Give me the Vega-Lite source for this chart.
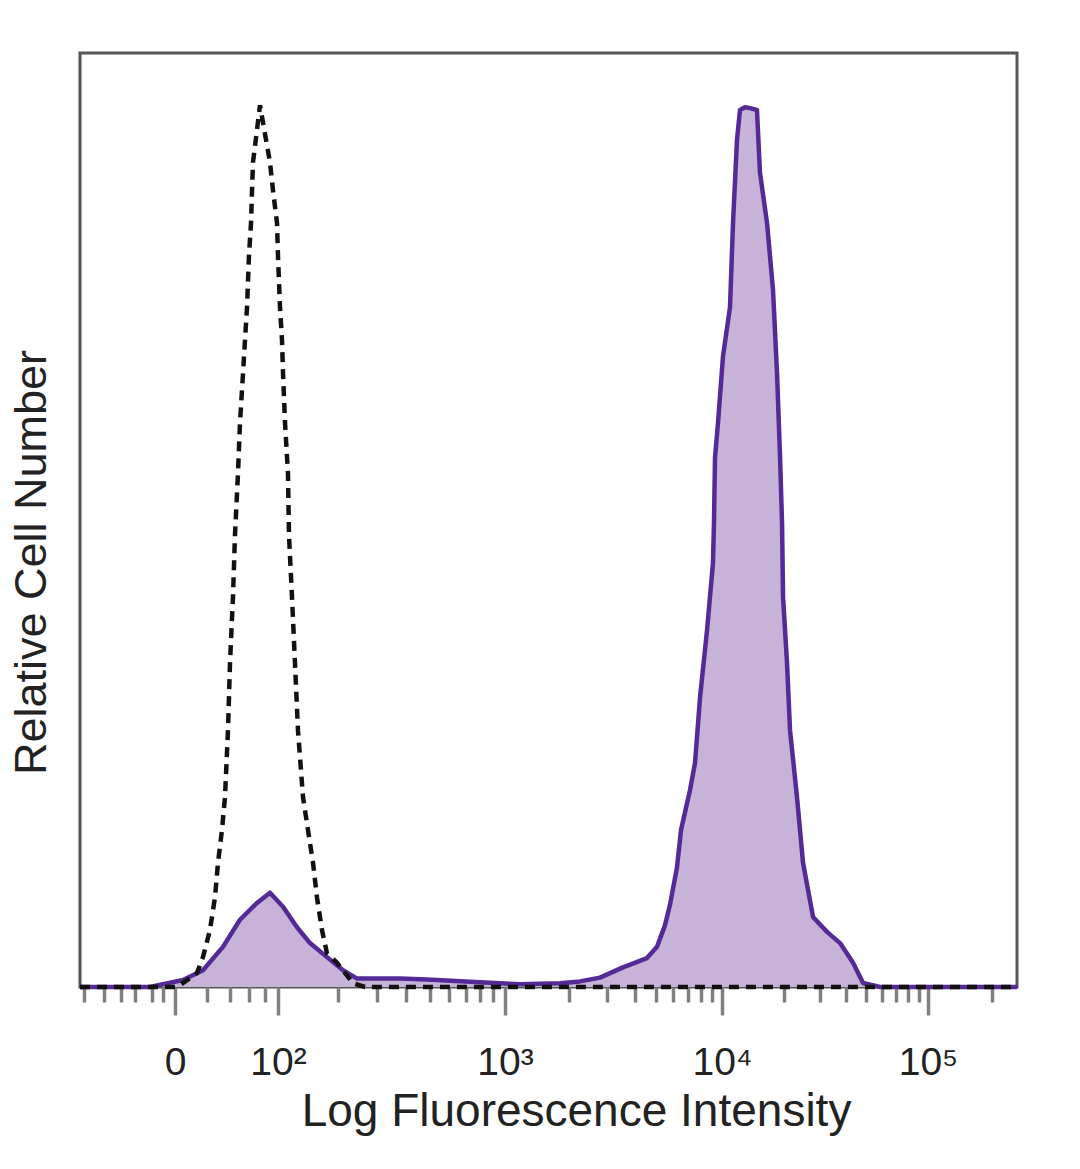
{
  "$schema": "https://vega.github.io/schema/vega-lite/v6.json",
  "autosize": {"type": "none"},
  "padding": {"left": 80, "top": 53, "right": 63, "bottom": 182},
  "width": 937,
  "height": 934,
  "background": "white",
  "config": {
    "view": {"stroke": "#555555", "strokeWidth": 3},
    "font": "Liberation Sans"
  },
  "datasets": {
    "control": [
      {"intensity": -150, "count": 0}, {"intensity": 0, "count": 0}, {"intensity": 2.7, "count": 0.2},
      {"intensity": 13.2, "count": 1.5}, {"intensity": 17.4, "count": 3.2}, {"intensity": 22.6, "count": 6.1},
      {"intensity": 26.6, "count": 9.6}, {"intensity": 29.1, "count": 13.3}, {"intensity": 32.5, "count": 16.8},
      {"intensity": 35.2, "count": 20.3}, {"intensity": 38, "count": 27.5}, {"intensity": 39.9, "count": 34.7},
      {"intensity": 42.8, "count": 41.8}, {"intensity": 44.8, "count": 48.4}, {"intensity": 47.9, "count": 55},
      {"intensity": 50, "count": 60.4}, {"intensity": 53.3, "count": 65.7}, {"intensity": 55.5, "count": 69.3},
      {"intensity": 57.8, "count": 72.8}, {"intensity": 60, "count": 78.2}, {"intensity": 62.5, "count": 81.8},
      {"intensity": 63.7, "count": 85.3}, {"intensity": 64.9, "count": 88.3}, {"intensity": 73.8, "count": 94.4},
      {"intensity": 87.7, "count": 88.3}, {"intensity": 92.2, "count": 85.3}, {"intensity": 98.4, "count": 81.8},
      {"intensity": 100, "count": 78.2}, {"intensity": 102.6, "count": 72.8}, {"intensity": 105.2, "count": 69.3},
      {"intensity": 106.6, "count": 65.7}, {"intensity": 109.3, "count": 60.4}, {"intensity": 113.4, "count": 55},
      {"intensity": 114.8, "count": 48.4}, {"intensity": 119.1, "count": 41.8}, {"intensity": 123.5, "count": 34.7},
      {"intensity": 128, "count": 27.5}, {"intensity": 135.9, "count": 20.3}, {"intensity": 144, "count": 16.8},
      {"intensity": 152.5, "count": 13.3}, {"intensity": 159.5, "count": 9.6}, {"intensity": 168.7, "count": 6.1},
      {"intensity": 178.3, "count": 3.6}, {"intensity": 198.8, "count": 2.6}, {"intensity": 235.3, "count": 0.4},
      {"intensity": 266, "count": 0}, {"intensity": 262144, "count": 0}
    ],
    "sample": [
      {"intensity": -150, "count": 0}, {"intensity": -22, "count": 0}, {"intensity": 4.45, "count": 0.75},
      {"intensity": 17.4, "count": 1.8}, {"intensity": 33.4, "count": 4.3}, {"intensity": 50, "count": 7.2},
      {"intensity": 69.9, "count": 9.0}, {"intensity": 87.7, "count": 10.1}, {"intensity": 106.6, "count": 8.6},
      {"intensity": 126.5, "count": 6.4}, {"intensity": 147.4, "count": 4.7}, {"intensity": 178.3, "count": 3.2},
      {"intensity": 211.9, "count": 1.8}, {"intensity": 245.3, "count": 0.9}, {"intensity": 376.8, "count": 0.9},
      {"intensity": 488, "count": 0.8}, {"intensity": 797, "count": 0.5}, {"intensity": 1178, "count": 0.3},
      {"intensity": 1811, "count": 0.4}, {"intensity": 2242, "count": 0.6}, {"intensity": 2772, "count": 1.0},
      {"intensity": 3536, "count": 2.1}, {"intensity": 4553, "count": 3.1}, {"intensity": 5059, "count": 4.3},
      {"intensity": 5500, "count": 6.6}, {"intensity": 5798, "count": 8.8}, {"intensity": 6240, "count": 12.8},
      {"intensity": 6510, "count": 16.8}, {"intensity": 7155, "count": 21.1}, {"intensity": 7540, "count": 24.0},
      {"intensity": 7945, "count": 31.0}, {"intensity": 8550, "count": 38.2}, {"intensity": 9100, "count": 45.4},
      {"intensity": 9195, "count": 49.7}, {"intensity": 9295, "count": 56.7}, {"intensity": 9590, "count": 60.4},
      {"intensity": 10110, "count": 67.5}, {"intensity": 10940, "count": 72.8}, {"intensity": 11315, "count": 81.8},
      {"intensity": 11830, "count": 90.7}, {"intensity": 12235, "count": 93.9}, {"intensity": 12940, "count": 94.2},
      {"intensity": 13685, "count": 94.1}, {"intensity": 14795, "count": 93.9}, {"intensity": 15300, "count": 87.2},
      {"intensity": 16560, "count": 81.8}, {"intensity": 17710, "count": 74.6}, {"intensity": 18520, "count": 65.7},
      {"intensity": 19155, "count": 56.7}, {"intensity": 19585, "count": 49.7}, {"intensity": 19805, "count": 41.8},
      {"intensity": 20710, "count": 34.7}, {"intensity": 21415, "count": 27.5}, {"intensity": 23160, "count": 20.3},
      {"intensity": 24765, "count": 13.3}, {"intensity": 27695, "count": 7.5}, {"intensity": 32390, "count": 5.9},
      {"intensity": 37455, "count": 4.7}, {"intensity": 43310, "count": 2.6}, {"intensity": 48430, "count": 0.43},
      {"intensity": 58565, "count": 0}, {"intensity": 262144, "count": 0}
    ]
  },
  "encoding": {
    "x": {
      "field": "intensity",
      "type": "quantitative",
      "scale": {
        "type": "symlog",
        "constant": 50,
        "domain": [-150, 0, 100, 1000, 10000, 100000, 262144],
        "range": [0, 95, 198, 425, 642, 848, 937],
        "nice": false,
        "zero": false
      },
      "axis": {
        "title": "Log Fluorescence Intensity",
        "titleFont": "Liberation Sans",
        "titleFontSize": 46,
        "titleFontWeight": "normal",
        "titleColor": "#222222",
        "titleX": 496,
        "titleY": 138,
        "titleBaseline": "alphabetic",
        "titleAlign": "center",
        "titleAnchor": null,
        "values": [-140, -90, -60, -40, -20, -10, 0, 20, 40, 60, 80, 100, 200, 300, 400, 500, 600, 700, 800, 900, 1000, 2000, 3000, 4000, 5000, 6000, 7000, 8000, 9000, 10000, 20000, 30000, 40000, 50000, 60000, 70000, 80000, 90000, 100000, 200000],
        "labelExpr": "datum.value === 0 ? '0' : datum.value === 100 ? '10²' : datum.value === 1000 ? '10³' : datum.value === 10000 ? '10⁴' : datum.value === 100000 ? '10⁵' : ''",
        "labelFont": "Liberation Sans",
        "labelFontSize": 39,
        "labelColor": "#222222",
        "labelPadding": 28,
        "labelOverlap": false,
        "labelFlush": false,
        "tickColor": "#808080",
        "tickWidth": 3.5,
        "tickSize": {"condition": {"test": "indexof([0,100,1000,10000,100000], datum.value) >= 0", "value": 28}, "value": 15},
        "domain": false,
        "grid": false
      }
    },
    "y": {
      "field": "count",
      "type": "quantitative",
      "scale": {"domain": [0, 100], "nice": false},
      "axis": {
        "title": "Relative Cell Number",
        "titleFont": "Liberation Sans",
        "titleFontSize": 45,
        "titleFontWeight": "normal",
        "titleColor": "#222222",
        "titleX": -26,
        "titleY": 509,
        "titleAlign": "center",
        "titleAnchor": null,
        "labels": false,
        "ticks": false,
        "domain": false,
        "grid": false
      }
    }
  },
  "layer": [
    {
      "data": {"name": "sample"},
      "mark": {"type": "area", "color": "#c7b2d8", "opacity": 1, "interpolate": "linear"}
    },
    {
      "data": {"name": "sample"},
      "mark": {"type": "line", "color": "#552a96", "strokeWidth": 4.5, "interpolate": "linear", "strokeJoin": "round"}
    },
    {
      "data": {"name": "control"},
      "mark": {"type": "line", "color": "#111111", "strokeWidth": 4.5, "strokeDash": [10, 7], "interpolate": "linear"}
    }
  ]
}
